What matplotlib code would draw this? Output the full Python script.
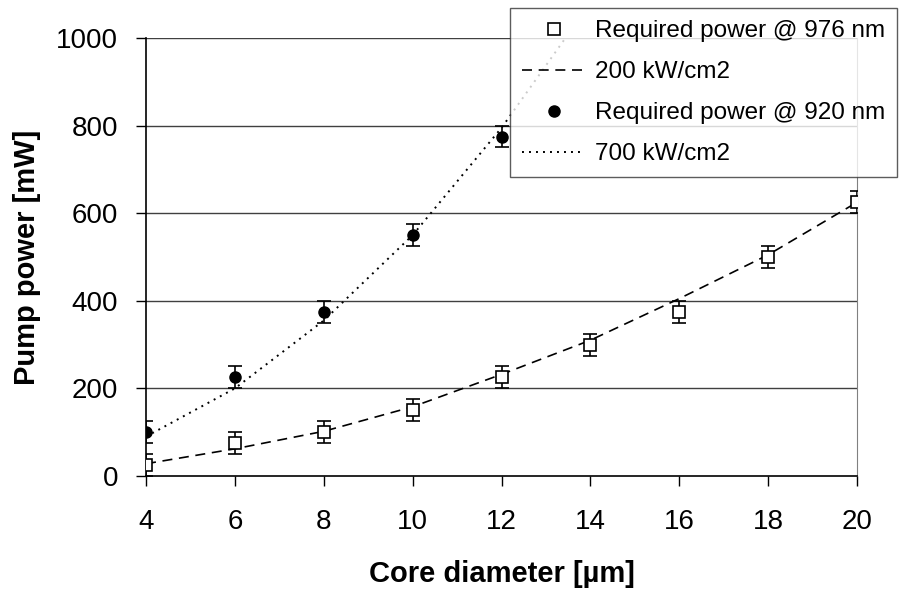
import matplotlib.pyplot as plt
import numpy as np
from matplotlib import rcParams

rcParams['font.family'] = ['Liberation Sans', 'DejaVu Sans']

# data
core_diam = [4, 6, 8, 10, 12, 14, 16, 18, 20]
power_976 = [25, 75, 100, 150, 225, 300, 375, 500, 625]
err_976 = [25, 25, 25, 25, 25, 25, 25, 25, 25]
fit_200 = [28, 62, 102, 158, 232, 310, 405, 505, 625]

core_diam_920 = [4, 6, 8, 10, 12]
power_920 = [100, 225, 375, 550, 775]
err_920 = [25, 25, 25, 25, 25]
fit_x_700 = [4, 6, 8, 10, 12, 14]
fit_700 = [90, 200, 355, 550, 795, 1080]

fig = plt.figure(figsize=(9.02, 5.89), dpi=100)
ax = fig.add_axes([0.1619, 0.1919, 0.7883, 0.7436])

for y in [200, 400, 600, 800, 1000]:
    ax.axhline(y, color='#404040', lw=1.0, zorder=1)

ax.plot(core_diam, fit_200, color='k', lw=1.2, linestyle=(0, (6, 4)), zorder=2,
        label='200 kW/cm2')
ax.plot(fit_x_700, fit_700, color='k', lw=1.4, linestyle=(0, (1, 2.6)), zorder=2,
        label='700 kW/cm2')

ax.errorbar(core_diam, power_976, yerr=err_976, fmt='none', ecolor='k',
            elinewidth=1.2, capsize=5, capthick=1.2, zorder=3)
ax.plot(core_diam, power_976, linestyle='none', marker='s', markersize=9,
        markerfacecolor='white', markeredgecolor='k', markeredgewidth=1.2,
        zorder=4, label='Required power @ 976 nm')

ax.errorbar(core_diam_920, power_920, yerr=err_920, fmt='none', ecolor='k',
            elinewidth=1.2, capsize=5, capthick=1.2, zorder=3)
ax.plot(core_diam_920, power_920, linestyle='none', marker='o', markersize=8,
        color='k', zorder=4, label='Required power @ 920 nm')

ax.set_xlim(4, 20)
ax.set_ylim(0, 1000)
ax.set_xticks(range(4, 21, 2))
ax.set_yticks(range(0, 1001, 200))
ax.tick_params(axis='both', labelsize=20, direction='out', length=7, width=1)
ax.tick_params(axis='x', pad=17)
ax.tick_params(axis='y', pad=13)

ax.spines['top'].set_visible(False)
ax.spines['right'].set_color('#808080')
ax.spines['left'].set_linewidth(1.2)
ax.spines['bottom'].set_linewidth(1.2)

ax.set_xlabel('Core diameter [µm]', fontsize=21, fontweight='bold', labelpad=18)
ax.set_ylabel('Pump power [mW]', fontsize=21, fontweight='bold', labelpad=11)

h, l = ax.get_legend_handles_labels()
order = [2, 0, 3, 1]
leg = fig.legend([h[i] for i in order], [l[i] for i in order],
                 loc='upper left', bbox_to_anchor=(510 / 902, 1 - 8 / 589),
                 borderaxespad=0, fontsize=17.5, frameon=True, fancybox=False,
                 handlelength=2.6, handletextpad=0.4, labelspacing=0.78,
                 borderpad=0.5)
leg.get_frame().set_edgecolor('#333333')
leg.get_frame().set_linewidth(1.0)
leg.set_zorder(10)

plt.savefig('out.png', dpi=100)
